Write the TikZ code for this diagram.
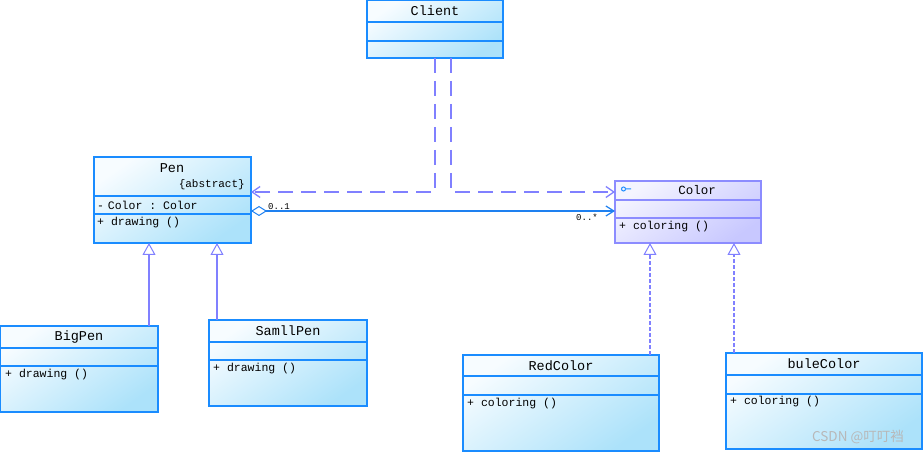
\documentclass[tikz,border=0pt]{standalone}
\usepackage{fontspec}
\setmonofont{Liberation Mono}
\newfontfamily\cjkf{Noto Sans CJK SC}
\usetikzlibrary{arrows.meta,calc}
\definecolor{boxblue}{HTML}{1A8CFF}
\definecolor{filltop}{HTML}{F7FCFF}
\definecolor{fillbot}{HTML}{ACE2FA}
\definecolor{boxpurple}{HTML}{8C8CFF}
\definecolor{ptop}{HTML}{F4F4FF}
\definecolor{pbot}{HTML}{C8C8FF}
\definecolor{conn}{HTML}{8080FF}
\definecolor{assoc}{HTML}{1E80F0}
\begin{document}
\begin{tikzpicture}[x=1pt,y=-1pt,
  bluebox/.style={draw=boxblue, line width=1.2pt, inner sep=0pt, outer sep=0pt,
    top color=filltop, bottom color=fillbot, shading angle=35},
  purplebox/.style={draw=boxpurple, line width=1.2pt, inner sep=0pt, outer sep=0pt,
    top color=ptop, bottom color=pbot, shading angle=35},
  divb/.style={draw=boxblue, line width=1.1pt},
  divp/.style={draw=boxpurple, line width=1.1pt},
  title/.style={inner sep=0pt, font=\ttfamily\fontsize{13.5}{14}\selectfont},
  member/.style={inner sep=0pt, anchor=west, font=\ttfamily\fontsize{11.5}{12}\selectfont},
  mult/.style={inner sep=0pt, font=\ttfamily\fontsize{9}{10}\selectfont},
  dep/.style={draw=conn, line width=2.2pt, dash pattern=on 15pt off 8pt,
    -{Straight Barb[length=8pt,width=11pt,line width=1.3pt]}},
  gen/.style={draw=conn, line width=1.1pt,
    -{Triangle[open,length=12pt,width=13pt,fill=white,line width=1pt]}},
  real/.style={draw=conn, line width=2.2pt, dash pattern=on 4pt off 2pt,
    -{Triangle[open,length=12pt,width=13pt,fill=white,line width=1pt]}},
]
\useasboundingbox (0,0) rectangle (924,454);

% ---------- Client ----------
\node[bluebox, minimum width=136pt, minimum height=57.4pt] (client) at (435,29.3) {};
\draw[divb] ([yshift=-21.4pt]client.north west) -- ([yshift=-21.4pt]client.north east);
\draw[divb] ([yshift=-40.4pt]client.north west) -- ([yshift=-40.4pt]client.north east);
\node[title] (clientT) at (435,11) {Client};

% ---------- Pen ----------
\node[bluebox, minimum width=157pt, minimum height=86pt] (pen) at (172.5,200) {};
\draw[divb] ([yshift=-39pt]pen.north west) -- ([yshift=-39pt]pen.north east);
\draw[divb] ([yshift=-57pt]pen.north west) -- ([yshift=-57pt]pen.north east);
\node[title] (penT) at (172,168) {Pen};
\node[inner sep=0pt, anchor=east, font=\ttfamily\fontsize{11}{12}\selectfont] (penA) at (245,185) {\{abstract\}};
\node[member] (penM1) at (97,205) {-\,\,Color : Color};
\node[member] (penM2) at (97,223) {+ drawing ()};

% ---------- Color ----------
\node[purplebox, minimum width=146pt, minimum height=62pt] (color) at (688,212) {};
\draw[divp] ([yshift=-19pt]color.north west) -- ([yshift=-19pt]color.north east);
\draw[divp] ([yshift=-37pt]color.north west) -- ([yshift=-37pt]color.north east);
\node[title, font=\ttfamily\fontsize{12.5}{13}\selectfont] (colorT) at (697,190) {Color};
\draw[draw=boxblue, line width=1pt] (623.5,189) circle (2pt) (625.5,189) -- (631,189);
\node[member] (colorM) at (619,227) {+ coloring ()};

% ---------- BigPen ----------
\node[bluebox, minimum width=157.4pt, minimum height=86pt] (bigpen) at (79.3,369) {};
\draw[divb] ([yshift=-22pt]bigpen.north west) -- ([yshift=-22pt]bigpen.north east);
\draw[divb] ([yshift=-40pt]bigpen.north west) -- ([yshift=-40pt]bigpen.north east);
\node[title] (bigpenT) at (79,337) {BigPen};
\node[member] (bigpenM) at (5,375) {+ drawing ()};

% ---------- SamllPen ----------
\node[bluebox, minimum width=158pt, minimum height=86pt] (samllpen) at (288,363) {};
\draw[divb] ([yshift=-22pt]samllpen.north west) -- ([yshift=-22pt]samllpen.north east);
\draw[divb] ([yshift=-40pt]samllpen.north west) -- ([yshift=-40pt]samllpen.north east);
\node[title] (samllpenT) at (288,331) {SamllPen};
\node[member] (samllpenM) at (213,369) {+ drawing ()};

% ---------- RedColor ----------
\node[bluebox, minimum width=196pt, minimum height=96pt] (redcolor) at (561,403) {};
\draw[divb] ([yshift=-21pt]redcolor.north west) -- ([yshift=-21pt]redcolor.north east);
\draw[divb] ([yshift=-40pt]redcolor.north west) -- ([yshift=-40pt]redcolor.north east);
\node[title] (redcolorT) at (561,366) {RedColor};
\node[member] (redcolorM) at (467,404) {+ coloring ()};

% ---------- buleColor ----------
\node[bluebox, minimum width=196pt, minimum height=96pt] (bulecolor) at (824,401) {};
\draw[divb] ([yshift=-22pt]bulecolor.north west) -- ([yshift=-22pt]bulecolor.north east);
\draw[divb] ([yshift=-41pt]bulecolor.north west) -- ([yshift=-41pt]bulecolor.north east);
\node[title] (bulecolorT) at (824,364) {buleColor};
\node[member] (bulecolorM) at (730,402) {+ coloring ()};

% ---------- Dependencies from Client ----------
\draw[dep] (client.south) |- ([yshift=8pt]pen.east);
\draw[dep] ([xshift=16pt]client.south) |- ([yshift=20pt]color.west);

% ---------- Association Pen -> Color ----------
\draw[draw=assoc, line width=1.1pt,
  {Diamond[open,length=16pt,width=10pt,fill=white,line width=1pt]}-{Straight Barb[length=8pt,width=10pt,line width=1.2pt]}]
  ([yshift=-11pt]pen.east) -- ([yshift=-11pt]pen.east -| color.west);
\node[mult] (m1) at (279,207) {0..1};
\node[mult] (m2) at (587,217) {0..*};

% ---------- Generalization ----------
\draw[gen] ([xshift=-9pt]bigpen.north east) -- ([xshift=-9pt]bigpen.north east |- pen.south);
\draw[gen] ([xshift=8pt]samllpen.north west) -- ([xshift=8pt]samllpen.north west |- pen.south);

% ---------- Realization ----------
\draw[real] ([xshift=-9pt]redcolor.north east) -- ([xshift=-9pt]redcolor.north east |- color.south);
\draw[real] ([xshift=8pt]bulecolor.north west) -- ([xshift=8pt]bulecolor.north west |- color.south);

% ---------- watermark ----------
\node[inner sep=0pt, text=black!28, font=\cjkf\fontsize{13.5}{14}\selectfont] (wm) at (858,437) {CSDN @叮叮裆};
\end{tikzpicture}
\end{document}
